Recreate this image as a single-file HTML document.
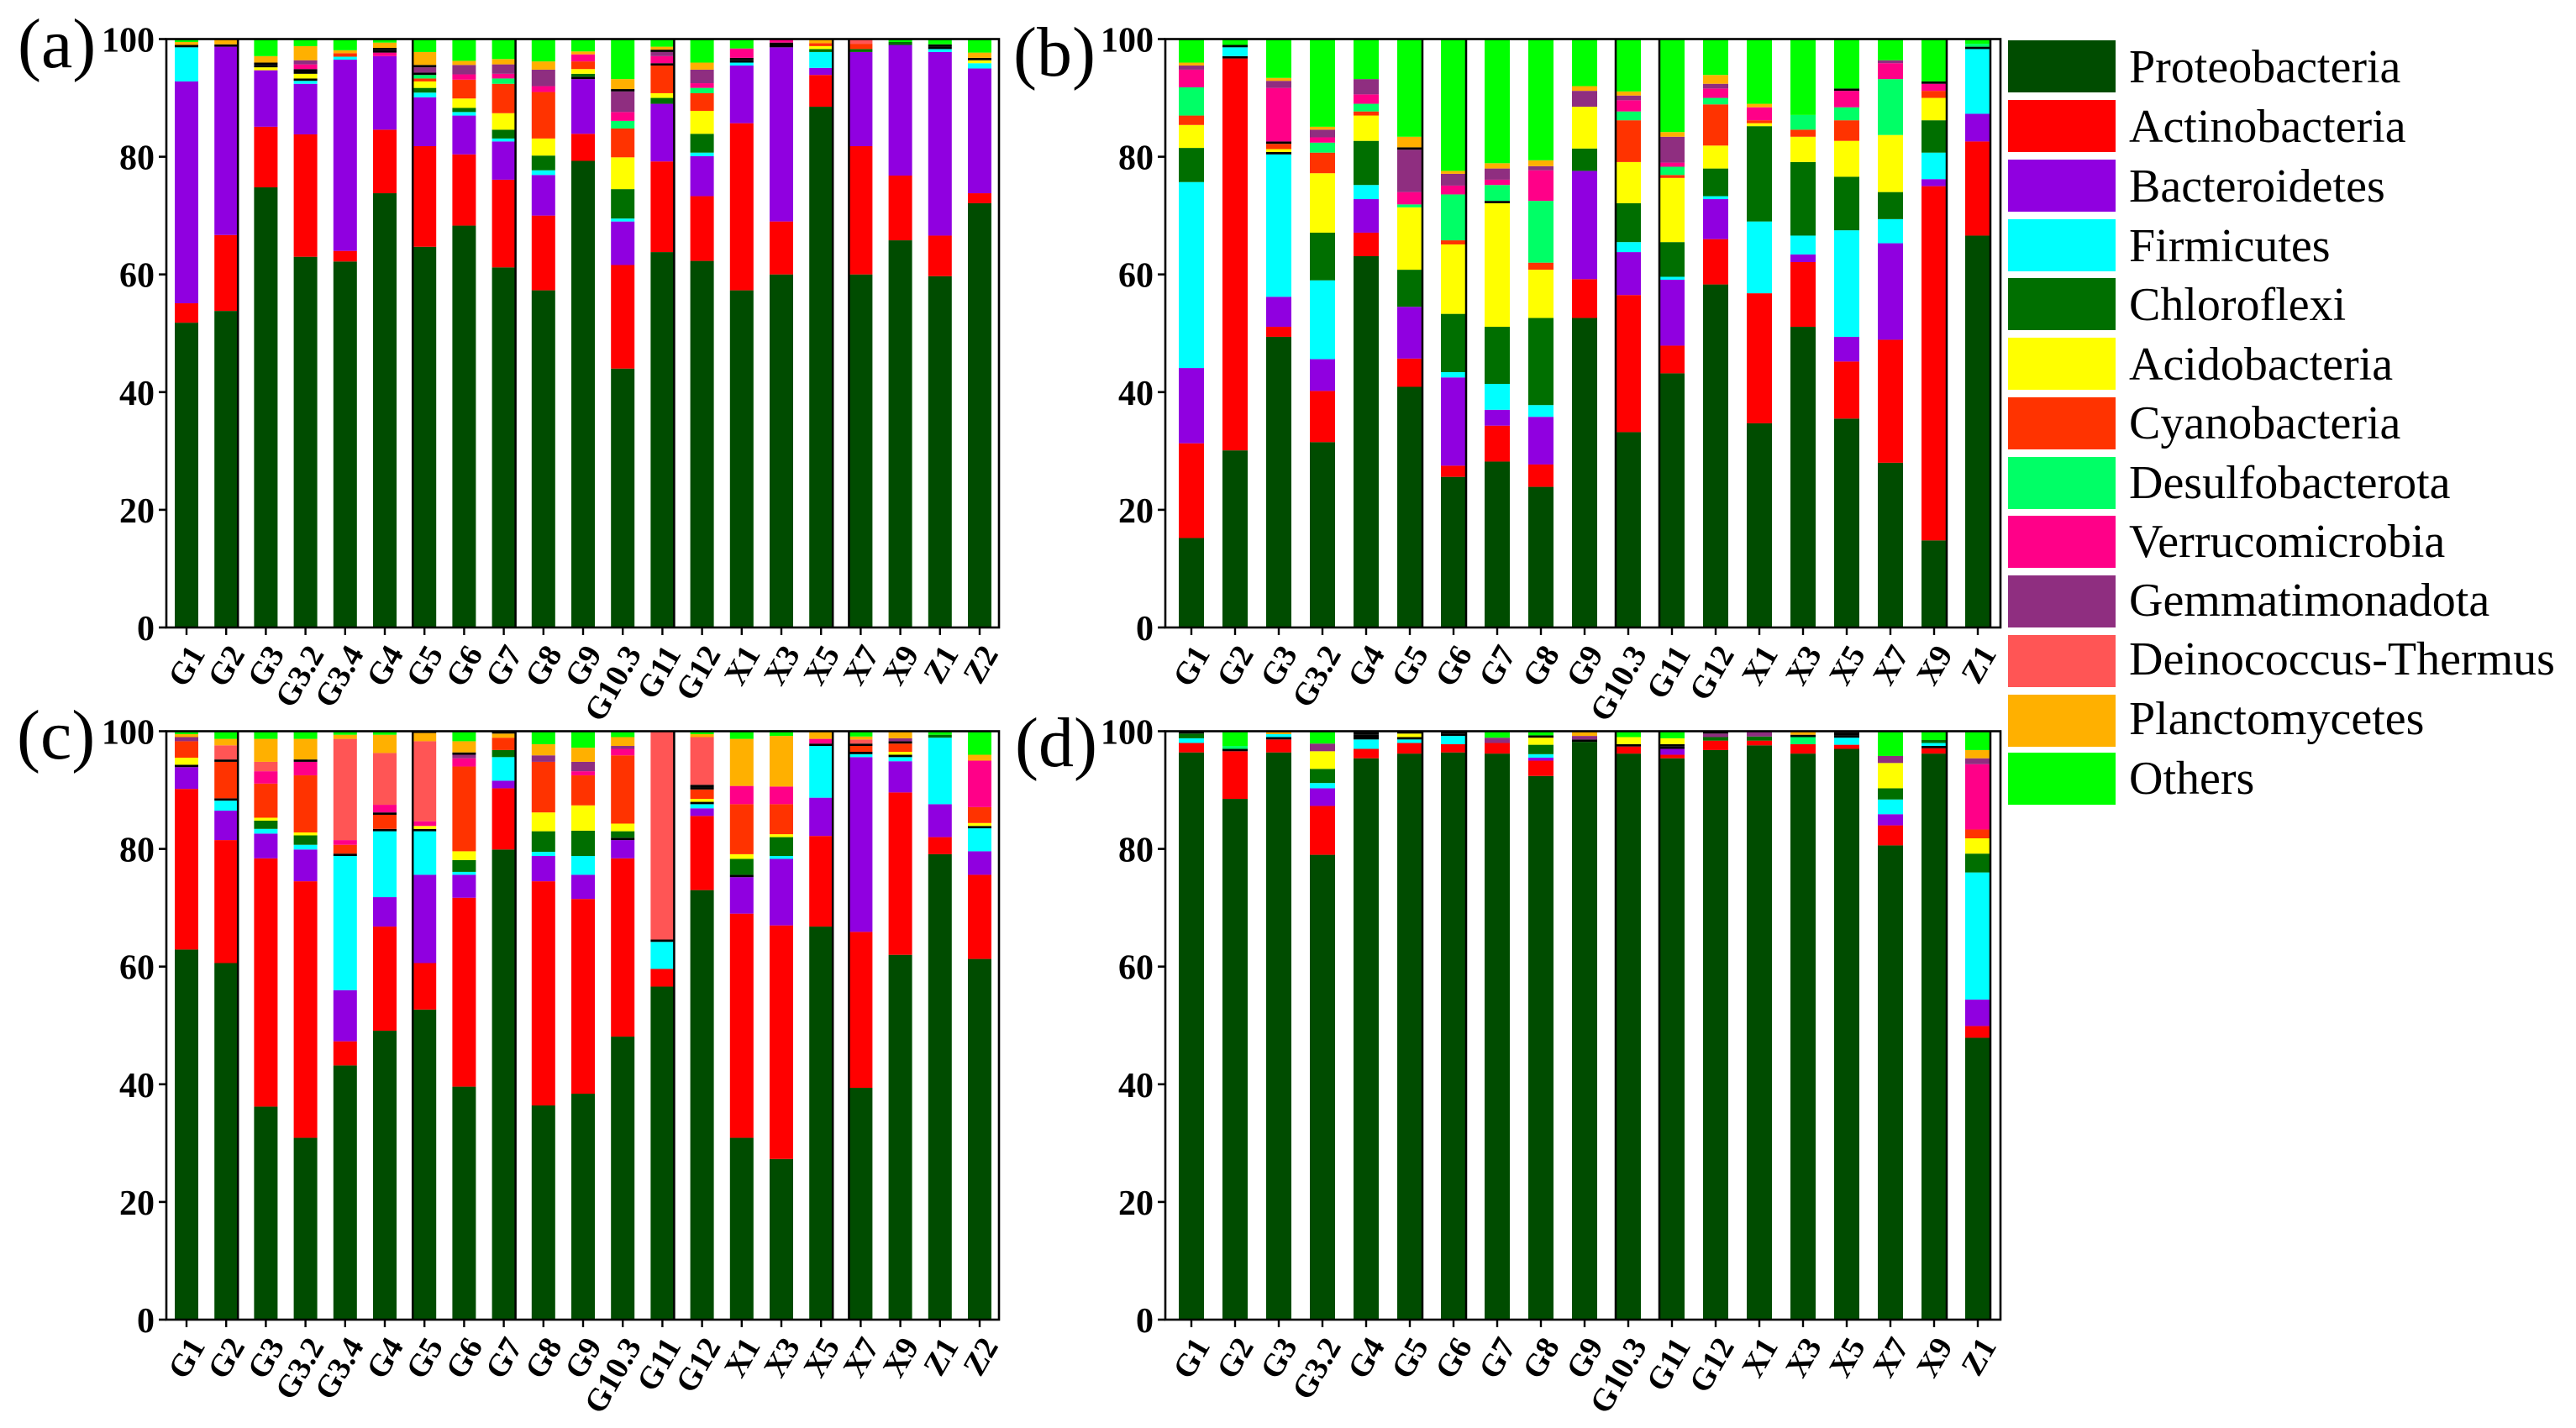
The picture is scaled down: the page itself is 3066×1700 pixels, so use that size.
<!DOCTYPE html>
<html lang="en">
<head>
<meta charset="utf-8">
<title>Relative abundance of bacterial phyla</title>
<style>
html,body{margin:0;padding:0;background:#fff;}
svg{display:block;font-family:"Liberation Serif",serif;}
.tick-label{font-weight:700;font-size:42px;fill:#000;text-anchor:end;}
.cat-label{font-weight:700;font-size:38px;fill:#000;text-anchor:end;}
.panel-letter{font-size:84px;fill:#000;}
.legend-text{font-size:56px;fill:#000;}
</style>
</head>
<body>
<svg id="chart" xmlns="http://www.w3.org/2000/svg" width="3066" height="1700" viewBox="0 0 3066 1700">
  <rect x="0" y="0" width="3066" height="1700" fill="#fff"/>
  <text class="panel-letter" x="21" y="80">(a)</text>
  <text class="panel-letter" x="1206" y="90">(b)</text>
  <text class="panel-letter" x="20" y="903">(c)</text>
  <text class="panel-letter" x="1208" y="912">(d)</text>
  <g id="plots"></g>
  <g id="legend">
    <g><rect x="2390" y="48" width="128" height="62" fill="#004c00"/><text class="legend-text" x="2534" y="98">Proteobacteria</text></g>
    <g><rect x="2390" y="119" width="128" height="62" fill="#ff0000"/><text class="legend-text" x="2534" y="169">Actinobacteria</text></g>
    <g><rect x="2390" y="190" width="128" height="62" fill="#9000e0"/><text class="legend-text" x="2534" y="240">Bacteroidetes</text></g>
    <g><rect x="2390" y="261" width="128" height="62" fill="#00ffff"/><text class="legend-text" x="2534" y="311">Firmicutes</text></g>
    <g><rect x="2390" y="331" width="128" height="62" fill="#006f00"/><text class="legend-text" x="2534" y="381">Chloroflexi</text></g>
    <g><rect x="2390" y="402" width="128" height="62" fill="#ffff00"/><text class="legend-text" x="2534" y="452">Acidobacteria</text></g>
    <g><rect x="2390" y="473" width="128" height="62" fill="#ff3300"/><text class="legend-text" x="2534" y="522">Cyanobacteria</text></g>
    <g><rect x="2390" y="544" width="128" height="62" fill="#00ff66"/><text class="legend-text" x="2534" y="593">Desulfobacterota</text></g>
    <g><rect x="2390" y="614" width="128" height="62" fill="#ff0088"/><text class="legend-text" x="2534" y="663">Verrucomicrobia</text></g>
    <g><rect x="2390" y="685" width="128" height="62" fill="#8f2e80"/><text class="legend-text" x="2534" y="733">Gemmatimonadota</text></g>
    <g><rect x="2390" y="756" width="128" height="62" fill="#ff5555"/><text class="legend-text" x="2534" y="803">Deinococcus-Thermus</text></g>
    <g><rect x="2390" y="827" width="128" height="62" fill="#ffb000"/><text class="legend-text" x="2534" y="874">Planctomycetes</text></g>
    <g><rect x="2390" y="896" width="128" height="62" fill="#00ff00"/><text class="legend-text" x="2534" y="945">Others</text></g>
  </g>
</svg>
<script>
const seriesNames = ["proteobacteria","actinobacteria","bacteroidetes","firmicutes","chloroflexi","acidobacteria","cyanobacteria","desulfobacterota","verrucomicrobia","gemmatimonadota","deinococcus-thermus","planctomycetes","others"];
const seriesColors = ["#004c00","#ff0000","#9000e0","#00ffff","#006f00","#ffff00","#ff3300","#00ff66","#ff0088","#8f2e80","#ff5555","#ffb000","#00ff00"];
const yTicks = [0,20,40,60,80,100];
const categories21 = ["G1","G2","G3","G3.2","G3.4","G4","G5","G6","G7","G8","G9","G10.3","G11","G12","X1","X3","X5","X7","X9","Z1","Z2"];
const categories19 = ["G1","G2","G3","G3.2","G4","G5","G6","G7","G8","G9","G10.3","G11","G12","X1","X3","X5","X7","X9","Z1"];

// Each row: abundance (%) per series for one sample, bottom to top. Values <= 0.4 show as dark slivers.
const valuesA = [
[51.8,3.3,37.7,5.8,.4,0,0,0,0,0,0,.5,.5],
[53.8,12.9,32,0,0,0,0,0,0,.4,0,.9,0],
[74.8,10.3,9.6,0,0,.5,.4,.4,0,0,0,1.1,2.9],
[63,20.8,8.6,.5,.4,.8,.4,.4,.8,.7,0,2.4,1.2],
[62.2,1.8,32.5,.5,0,0,.6,0,0,0,0,.5,1.9],
[73.8,10.8,12.5,0,0,0,0,0,.6,.4,.4,.9,.6],
[64.7,17.1,8.3,.8,.8,1.1,.5,.6,.4,.9,.4,2.2,2.2],
[68.3,12.1,6.6,.6,.7,1.6,3.2,0,.9,1.6,0,.7,3.7],
[61.2,14.9,6.5,.5,1.5,2.8,5,.9,.8,1.6,0,.9,3.4],
[57.3,12.7,6.9,.8,2.5,2.9,7.9,0,1,2.8,0,1.4,3.8],
[79.3,4.6,9.3,.4,.5,.8,1.3,0,1.2,0,0,.5,2.1],
[44,17.6,7.4,.5,5,5.4,4.9,1.3,1.5,3.5,.4,1.7,6.8],
[63.8,15.4,9.8,0,1,.8,4.7,.4,1.2,.7,.4,.5,1.3],
[62.3,11,6.8,.6,3.2,3.9,3,.9,.8,2.3,0,1.2,4],
[57.3,28.4,9.8,.5,.4,.4,0,0,1.6,0,0,0,1.6],
[60,9,29.6,0,.4,.4,0,0,.6,0,0,0,0],
[88.5,5.4,1.2,2.7,.5,.5,.5,0,0,0,0,.7,0],
[60,21.8,16,0,.5,0,.9,0,0,0,.8,0,0],
[65.8,11,22.2,0,.5,0,0,0,0,0,0,0,.5],
[59.7,6.9,31.2,.5,.4,.4,0,0,0,0,0,0,.9],
[72.1,1.7,21.2,.9,0,.5,0,0,0,0,.4,.9,2.3]
];
const valuesB = [
[15.2,16.1,12.8,31.6,5.8,3.9,1.6,4.8,3,.7,0,.5,4],
[30.1,66.6,.4,1.5,.4,0,0,0,0,0,0,0,1],
[49.4,1.7,5.1,24.2,.4,.5,.9,.4,9.1,1.2,0,.5,6.6],
[31.5,8.7,5.4,13.4,8.1,10.1,3.5,1.7,.9,1.3,0,.5,14.9],
[63.1,4,5.7,2.4,7.5,4.3,.7,1.3,1.6,2.6,0,0,6.8],
[40.9,4.8,8.8,0,6.3,10.6,0,.5,2.1,7.2,.4,1.8,16.6],
[25.6,1.9,15,.9,9.9,11.8,.7,7.8,1.5,2,0,.5,22.4],
[28.2,6.1,2.7,4.4,9.7,21,.4,2.7,.9,1.9,0,.9,21.2],
[23.9,3.8,8.1,2,14.8,8.2,1.2,10.5,5.2,.7,0,1,20.6],
[52.6,6.6,18.4,0,3.8,7.1,0,0,0,2.7,0,.8,8],
[33.2,23.3,7.3,1.7,6.6,7,7.1,1.5,1.9,.8,0,.7,8.9],
[43.2,4.7,11.2,.5,5.9,10.9,.5,1.4,.7,4.4,0,.8,15.8],
[58.3,7.7,6.8,.5,4.7,3.9,7,1.1,1.6,.8,0,1.5,6.1],
[34.7,22.1,0,12.2,16.2,.5,.5,0,2.2,0,0,.6,11],
[51.1,11,1.3,3.2,12.5,4.3,1.2,2.5,0,0,0,0,12.9],
[35.5,9.7,4.2,18.1,9.1,6.1,3.5,2.2,2.8,.4,0,0,8.4],
[28,20.9,16.4,4.1,4.6,9.7,0,9.5,2.7,.5,0,0,3.6],
[14.8,60.2,1.2,4.5,5.5,3.8,1.2,0,1.2,0,.4,0,7.2],
[66.6,16,4.7,11,.4,0,0,.5,0,0,0,0,.8]
];
const valuesC = [
[62.9,27.3,3.7,0,.4,1.2,2.8,0,0,.7,0,.5,.5],
[60.6,20.9,5,1.7,.4,0,6.2,0,0,.4,2.4,1.1,1.3],
[36.2,42.2,4.2,.8,1.4,.5,5.8,0,2.1,0,1.6,3.9,1.3],
[30.9,43.6,5.4,.8,1.6,.5,9.7,0,2.3,.4,0,3.5,1.3],
[43.2,4.1,8.7,22.8,.4,0,1.5,0,.8,0,17.2,.7,.6],
[49.1,17.7,5,11.2,.4,0,2.4,.4,1.3,0,8.8,3.1,.6],
[52.7,7.9,15,7.4,.4,.5,0,0,.8,0,13.6,1.4,.3],
[39.6,32.1,3.9,.5,2,1.5,14.4,0,1.4,.6,.4,1.9,1.7],
[79.9,10.4,1.3,4,1.2,0,2.1,0,0,0,0,.7,.4],
[36.4,38.1,4.3,.7,3.5,3.2,8.6,0,0,1.1,0,1.9,2.2],
[38.4,33.1,4.1,3.2,4.3,4.3,5.1,0,.7,1.6,0,2.4,2.8],
[48.1,30.3,3.1,.4,1.1,1.3,11.6,0,1.1,.5,0,1.5,1],
[56.6,3,0,4.6,.4,0,0,0,0,0,35.4,0,0],
[73,12.6,1.3,.7,.4,.5,1.6,.4,0,.4,8.1,.5,.5],
[30.9,38.1,6.2,.4,2.7,.8,8.5,0,3.1,0,0,8,1.3],
[27.3,39.7,11.3,.5,3.2,.5,5.1,0,3,0,0,8.6,1],
[66.8,15.4,6.5,8.8,.4,0,0,0,.8,0,0,1.3,0],
[39.4,26.5,29.7,.5,.4,0,1,0,.4,0,.7,.5,.9],
[62,27.6,5.3,.7,.4,.5,1.4,.4,0,.5,0,1.2,0],
[79.1,2.9,5.6,11.3,.5,0,0,0,0,0,0,0,.6],
[61.3,14.3,4,3.9,.4,.5,2.7,0,7.9,0,0,1,4]
];
const valuesD = [
[96.4,1.6,0,.8,.8,0,0,0,0,0,0,0,.4],
[88.5,8.1,0,0,.4,0,0,.5,0,0,0,0,2.5],
[96.4,2.2,.4,.5,0,0,0,0,0,0,0,.5,0],
[79,8.3,3,.9,2.4,3,0,0,0,1.3,0,0,2.1],
[95.4,1.6,0,1.6,.4,.4,.4,.2,0,0,0,0,0],
[96.2,1.8,0,.6,.4,.6,.4,0,0,0,0,0,0],
[96.4,1.4,0,1.4,.4,0,0,0,0,0,0,0,.4],
[96.2,1.8,0,0,0,0,0,0,0,.9,0,0,1.1],
[92.4,2.6,.5,.6,1.6,1.2,.4,0,0,0,0,0,.6],
[98.2,0,0,0,.4,0,0,0,0,.6,0,.8,0],
[96.2,1.2,0,0,.4,1.2,0,0,0,0,0,0,1],
[95.4,.6,1,.4,.4,1,0,0,0,0,0,0,1.2],
[96.8,1.6,0,0,.6,0,0,0,0,.6,0,.4,0],
[97.6,.8,0,0,.7,0,0,0,0,.9,0,0,0],
[96.2,1.6,0,0,0,0,0,1.2,0,.4,0,.6,0],
[97,.7,0,1.2,.4,.4,.3,0,0,0,0,0,0],
[80.6,3.4,1.9,2.5,1.9,4.3,0,0,0,1.2,0,0,4.2],
[96.2,.9,.4,.5,.5,0,0,0,0,0,0,0,1.5],
[47.9,2,4.5,21.6,3.2,2.6,1.5,0,11.1,1,0,1.4,3.2]
];
// Bars whose side edge shows as a full-height dark line: [bar index, side].
const edgesWide = [[1,"right"],[6,"left"],[8,"right"],[12,"right"],[16,"right"],[17,"left"]];
const edgesNarrow = [[5,"right"],[6,"right"],[10,"left"],[11,"left"],[17,"right"],[18,"right"]];

const NS = "http://www.w3.org/2000/svg";
const plots = document.getElementById("plots");

function make(tag, parent) {
  const el = document.createElementNS(NS, tag);
  parent.appendChild(el);
  return el;
}
function slug(s) { return s.toLowerCase().replace(/\./g, "-"); }

function drawPanel(id, cats, rows, edges, box) {
  const yOf = v => box.bottom - (box.bottom - box.top) * v / 100;
  const xOf = i => box.first + box.step * i;

  const g = make("g", plots);
  
  

  rows.forEach((row, i) => {
    const bar = make("g", g);
    
    
    let cum = 0;
    row.forEach((v, s) => {
      if (v <= 0) return;
      const r = make("rect", bar);
      
      
      r.setAttribute("x", xOf(i) - box.barW / 2);
      r.setAttribute("y", yOf(cum + v));
      r.setAttribute("width", box.barW);
      r.setAttribute("height", yOf(cum) - yOf(cum + v));
      r.setAttribute("fill", v <= 0.4 ? "#000" : seriesColors[s]);
      cum += v;
    });
  });

  edges.forEach(e => {
    const x = xOf(e[0]) + (e[1] === "right" ? box.barW / 2 : -box.barW / 2);
    const l = make("line", g);
    
    
    l.setAttribute("x1", x);
    l.setAttribute("x2", x);
    l.setAttribute("y1", yOf(100));
    l.setAttribute("y2", yOf(0));
    l.setAttribute("stroke", "#000");
    l.setAttribute("stroke-width", "2.5");
  });

  const frame = make("rect", g);
  
  
  frame.setAttribute("x", box.left);
  frame.setAttribute("y", box.top);
  frame.setAttribute("width", box.right - box.left);
  frame.setAttribute("height", box.bottom - box.top);
  frame.setAttribute("fill", "none");
  frame.setAttribute("stroke", "#000");
  frame.setAttribute("stroke-width", "2.6");

  yTicks.forEach(t => {
    const m = make("line", g);
    
    
    m.setAttribute("x1", box.left - 9);
    m.setAttribute("x2", box.left);
    m.setAttribute("y1", yOf(t));
    m.setAttribute("y2", yOf(t));
    m.setAttribute("stroke", "#000");
    m.setAttribute("stroke-width", "2.6");
    const txt = make("text", g);
    
    
    txt.setAttribute("class", "tick-label");
    txt.setAttribute("x", box.left - 14);
    txt.setAttribute("y", yOf(t) + 15);
    txt.setAttribute("textLength", String(t).length * 21);
    txt.setAttribute("lengthAdjust", "spacingAndGlyphs");
    txt.textContent = t;
  });

  cats.forEach((c, i) => {
    const m = make("line", g);
    
    
    m.setAttribute("x1", xOf(i));
    m.setAttribute("x2", xOf(i));
    m.setAttribute("y1", box.bottom);
    m.setAttribute("y2", box.bottom + 9);
    m.setAttribute("stroke", "#000");
    m.setAttribute("stroke-width", "2.4");
    const px = xOf(i) + 23;
    const py = box.bottom + 31;
    const txt = make("text", g);
    
    
    txt.setAttribute("class", "cat-label");
    txt.setAttribute("x", px);
    txt.setAttribute("y", py);
    txt.setAttribute("transform", "rotate(-60 " + px + " " + py + ")");
    txt.textContent = c;
  });
}

drawPanel("a", categories21, valuesA, edgesWide, {left:198, right:1189, top:46.5, bottom:747, first:222, step:47.2, barW:28});
drawPanel("b", categories19, valuesB, edgesNarrow, {left:1387, right:2381, top:46.5, bottom:747, first:1418, step:52, barW:30});
drawPanel("c", categories21, valuesC, edgesWide, {left:198, right:1189, top:870.5, bottom:1571, first:222, step:47.2, barW:28});
drawPanel("d", categories19, valuesD, edgesNarrow, {left:1387, right:2381, top:870.5, bottom:1571, first:1418, step:52, barW:30});
</script>
</body>
</html>
